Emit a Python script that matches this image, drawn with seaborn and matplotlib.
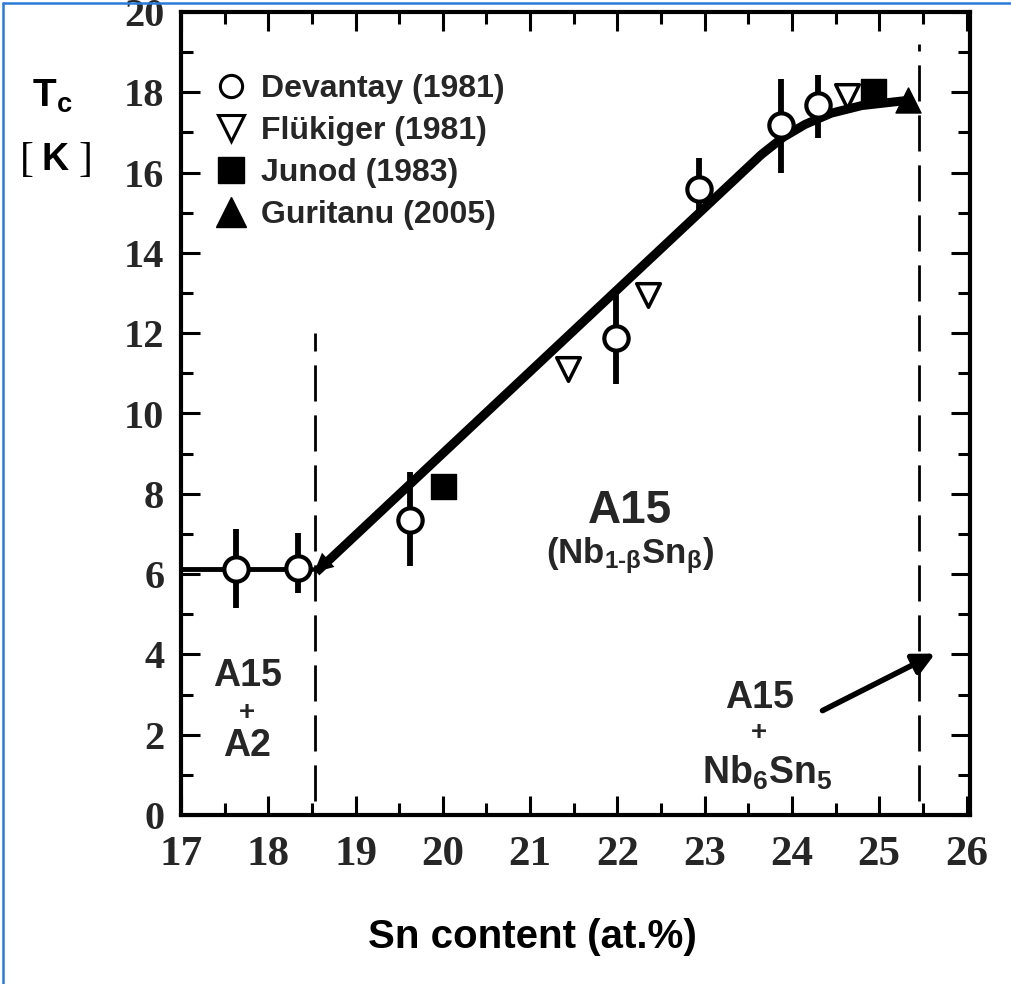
import numpy as np
import pandas as pd
import matplotlib
matplotlib.use("Agg")
import matplotlib.pyplot as plt
from matplotlib.lines import Line2D
import seaborn as sns

# ---------------- data ----------------
dev_x = [17.63, 18.34, 19.62, 21.98, 22.94, 23.87, 24.30]
dev_y = [6.12, 6.15, 7.35, 11.87, 15.60, 17.18, 17.68]
dev_lo = [5.16, 5.53, 6.20, 10.74, 14.93, 15.99, 16.86]
dev_hi = [7.12, 7.02, 8.55, 13.00, 16.37, 18.32, 18.42]

flu_x = [21.43, 22.35, 24.63]
flu_y = [11.10, 12.95, 17.92]

jun_x = [20.00, 24.93]
jun_y = [8.20, 18.02]

gur_x = [25.33]
gur_y = [17.80]

curve_x = [18.55, 23.65, 23.90, 24.15, 24.45, 24.80, 25.33]
curve_y = [6.05, 16.45, 16.88, 17.20, 17.48, 17.67, 17.80]

plateau_x = [17.00, 18.50]
plateau_y = [6.12, 6.12]

boundary_x = [18.53, 25.45]
boundary_top = [12.0, 19.2]

legend_labels = ["Devantay (1981)", "Flükiger (1981)", "Junod (1983)", "Guritanu (2005)"]
xticks = [17, 18, 19, 20, 21, 22, 23, 24, 25, 26]
yticks = [0, 2, 4, 6, 8, 10, 12, 14, 16, 18, 20]

# ---------------- style ----------------
sns.set_theme(style="ticks")
plt.rcParams["font.family"] = ["Liberation Sans", "DejaVu Sans"]
plt.rcParams["mathtext.fontset"] = "custom"
plt.rcParams["mathtext.rm"] = "Liberation Sans:bold"
plt.rcParams["mathtext.bf"] = "Liberation Sans:bold"
plt.rcParams["mathtext.it"] = "Liberation Sans:bold"

fig = plt.figure(figsize=(10.12, 9.84), dpi=100)
ax = fig.add_axes([181 / 1012, 1 - 815 / 984, 789 / 1012, (815 - 12) / 984])
ax.set_facecolor("white")

# lines
sns.lineplot(x=plateau_x, y=plateau_y, ax=ax, color="black", lw=3.5, zorder=2)
sns.lineplot(x=curve_x, y=curve_y, ax=ax, color="black", lw=6.5, zorder=2,
             solid_capstyle="butt")
ax.annotate("", xy=(curve_x[0] - 0.05, curve_y[0] - 0.05),
            xytext=(curve_x[0] + 0.35, curve_y[0] + 0.71),
            arrowprops=dict(arrowstyle="-|>", color="black", lw=0,
                            mutation_scale=34), zorder=3)

# dashed phase boundaries
for bx, bt in zip(boundary_x, boundary_top):
    ax.vlines(bx, 0.35, bt, colors="black", lw=2.0,
              linestyles=(0, (13, 5)), zorder=1)

# error bars for Devantay
dy = np.array(dev_y)
ax.errorbar(dev_x, dev_y, yerr=[dy - np.array(dev_lo), np.array(dev_hi) - dy],
            fmt="none", ecolor="black", elinewidth=4.2, capsize=0, zorder=3)

# markers
sns.scatterplot(x=dev_x, y=dev_y, ax=ax, marker="o", s=17.5 ** 2,
                facecolor="white", edgecolor="black", linewidth=3, zorder=4)
sns.scatterplot(x=flu_x, y=flu_y, ax=ax, marker="v", s=17 ** 2,
                facecolor="white", edgecolor="black", linewidth=2.5, zorder=4)
sns.scatterplot(x=jun_x, y=jun_y, ax=ax, marker="s", s=18 ** 2,
                color="black", edgecolor="black", linewidth=1, zorder=4)
sns.scatterplot(x=gur_x, y=gur_y, ax=ax, marker="^", s=18 ** 2,
                color="black", edgecolor="black", linewidth=1, zorder=4)

# axes limits & ticks
ax.set_xlim(17, 26.04)
ax.set_ylim(0, 19.91)
ax.set_xticks(xticks)
ax.set_yticks(yticks)
ax.set_xticks(np.arange(17.5, 26, 1.0), minor=True)
ax.set_yticks(np.arange(1, 20, 2), minor=True)
ax.set_xticklabels([str(t) for t in xticks])
ax.set_yticklabels([str(t) for t in yticks])
for lab in ax.get_xticklabels():
    lab.set_fontfamily(["Liberation Serif", "DejaVu Serif"])
    lab.set_fontsize(31)
    lab.set_fontweight("bold")
for lab in ax.get_yticklabels():
    lab.set_fontfamily(["Liberation Serif", "DejaVu Serif"])
    lab.set_fontsize(29)
    lab.set_fontweight("bold")
ax.tick_params(axis="both", which="major", direction="in", length=13.5,
               width=2.2, color="black", top=True, right=True)
ax.tick_params(axis="both", which="minor", direction="in", length=8.5,
               width=2.2, color="black", top=True, right=True)
ax.tick_params(axis="x", which="major", pad=15)
ax.tick_params(axis="y", which="major", pad=12)
for sp in ax.spines.values():
    sp.set_visible(True)
    sp.set_linewidth(3)
    sp.set_color("black")
ax.set_xlabel("")
ax.set_ylabel("")

# axis titles
fig.text(532 / 1012, 1 - 937 / 984, "Sn content (at.%)", ha="center", va="center",
         fontsize=29, fontweight="bold", color="black")
fig.text(52 / 1012, 1 - 96 / 984, r"T$_\mathrm{c}$", ha="center", va="center",
         fontsize=28, fontweight="bold", color="black")
fig.text(27 / 1012, 1 - 161 / 984, "[", ha="center", va="center", fontsize=30,
         family=["Liberation Serif", "DejaVu Serif"], color="black")
fig.text(55 / 1012, 1 - 160 / 984, "K", ha="center", va="center", fontsize=27,
         fontweight="bold", color="black")
fig.text(85 / 1012, 1 - 161 / 984, "]", ha="center", va="center", fontsize=30,
         family=["Liberation Serif", "DejaVu Serif"], color="black")

# annotations
ax.text(22.14, 7.58, "A15", ha="center", va="center", fontsize=33, fontweight="bold")
ax.text(22.14, 6.45, r"(Nb$_{\mathrm{1\text{-}\beta}}$Sn$_{\mathrm{\beta}}$)",
        ha="center", va="center", fontsize=25, fontweight="bold")
ax.text(17.76, 3.47, "A15", ha="center", va="center", fontsize=27, fontweight="bold")
ax.text(17.76, 2.55, "+", ha="center", va="center", fontsize=20, fontweight="bold")
ax.text(17.76, 1.72, "A2", ha="center", va="center", fontsize=27, fontweight="bold")
ax.text(23.63, 2.91, "A15", ha="center", va="center", fontsize=27, fontweight="bold")
ax.text(23.62, 2.05, "+", ha="center", va="center", fontsize=20, fontweight="bold")
ax.text(23.72, 1.05, r"Nb$_\mathbf{6}$Sn$_\mathbf{5}$", ha="center", va="center",
        fontsize=27, fontweight="bold")
ax.annotate("", xy=(25.64, 4.02), xytext=(24.35, 2.60),
            arrowprops=dict(arrowstyle="-|>", color="black", lw=4,
                            mutation_scale=32, shrinkA=0, shrinkB=0))

# legend
handles = [
    Line2D([], [], ls="none", marker="o", ms=16, mfc="white", mec="black", mew=2.2),
    Line2D([], [], ls="none", marker="v", ms=19, mfc="white", mec="black", mew=2.2),
    Line2D([], [], ls="none", marker="s", ms=19, mfc="black", mec="black", mew=1),
    Line2D([], [], ls="none", marker="^", ms=21, mfc="black", mec="black", mew=1),
]
leg = ax.legend(handles, legend_labels, loc="upper left",
                bbox_to_anchor=(216 / 1012, 1 - 74 / 984),
                bbox_transform=fig.transFigure, frameon=False,
                handlelength=0.95, handletextpad=0.45, labelspacing=0.38,
                borderpad=0, borderaxespad=0,
                prop=dict(family="Liberation Sans", weight="bold", size=23))

# thin blue page border (left and top)
fig.add_artist(Line2D([3 / 1012, 3 / 1012], [0, 1 - 3 / 984], color="#2b7bd6", lw=1.8,
                      transform=fig.transFigure))
fig.add_artist(Line2D([3 / 1012, 1], [1 - 3 / 984, 1 - 3 / 984], color="#2b7bd6", lw=1.8,
                      transform=fig.transFigure))

fig.savefig("out.png", dpi=100, facecolor="white")
